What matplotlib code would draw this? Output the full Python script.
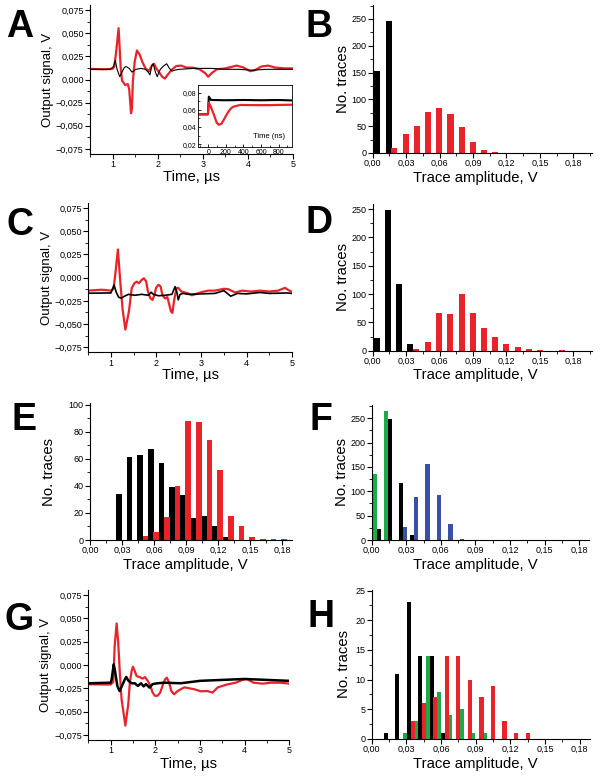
import matplotlib
matplotlib.use("Agg")
import matplotlib.pyplot as plt
from matplotlib.ticker import MultipleLocator, FuncFormatter

plt.rcParams['font.family'] = ['Liberation Sans', 'DejaVu Sans']

RED = '#E8242A'
GREEN = '#1DAA4B'
BLUE = '#3A50A8'
BLACK = '#000000'

# ---------------- data ----------------
# Panel A traces (time us, signal V)
a_red_t = [0.5, 0.8, 1.0, 1.04, 1.08, 1.134, 1.18, 1.21, 1.25, 1.28, 1.34, 1.37, 1.41, 1.43, 1.45, 1.49,
           1.54, 1.60, 1.66, 1.73, 1.81, 1.87, 1.92, 1.97, 2.03, 2.10, 2.16, 2.22, 2.30, 2.41, 2.52, 2.63,
           2.78, 2.93, 3.05, 3.12, 3.20, 3.31, 3.5, 3.75, 3.9, 4.05, 4.15, 4.3, 4.45, 4.6, 4.8, 5.0]
a_red_v = [0.0115, 0.011, 0.0115, 0.014, 0.030, 0.0554, 0.013, -0.001, -0.004, -0.006, -0.005, -0.011,
           -0.0365, -0.031, -0.002, 0.019, 0.0314, 0.027, 0.019, 0.012, 0.009, 0.015, 0.017, 0.012, 0.008,
           0.003, 0.001, 0.005, 0.010, 0.0145, 0.015, 0.013, 0.0128, 0.011, 0.007, 0.003, 0.007, 0.011,
           0.012, 0.015, 0.013, 0.009, 0.010, 0.014, 0.015, 0.013, 0.012, 0.012]
a_blk_t = [0.5, 0.95, 1.02, 1.06, 1.10, 1.16, 1.21, 1.26, 1.30, 1.37, 1.43, 1.52, 1.63, 1.73, 1.79, 1.83,
           1.87, 1.90, 1.95, 1.99, 2.03, 2.06, 2.14, 2.20, 2.26, 2.32, 2.37, 2.48, 2.8, 3.2, 3.5, 3.8,
           4.1, 4.4, 4.7, 5.0]
a_blk_v = [0.011, 0.011, 0.014, 0.0207, 0.011, 0.003, 0.008, 0.013, 0.014, 0.012, 0.008, 0.011, 0.012,
           0.011, 0.008, 0.005, 0.015, 0.017, 0.008, 0.003, 0.008, 0.011, 0.015, 0.017, 0.012, 0.009,
           0.010, 0.011, 0.012, 0.012, 0.011, 0.011, 0.010, 0.011, 0.011, 0.011]
# Panel A inset (time ns, signal V)
in_red_t = [-115, -5, 5, 30, 57, 95, 120, 150, 171, 200, 229, 260, 286, 362, 500, 700, 950]
in_red_v = [0.0548, 0.0548, 0.0684, 0.063, 0.056, 0.045, 0.0425, 0.044, 0.0475, 0.053, 0.058, 0.062,
            0.0637, 0.0657, 0.0655, 0.0655, 0.066]
in_blk_t = [-115, -5, 5, 30, 200, 400, 600, 800, 950]
in_blk_v = [0.0548, 0.0548, 0.0754, 0.0715, 0.0712, 0.0715, 0.0712, 0.0715, 0.071]

# Panel C traces
c_red_t = [0.5, 0.8, 1.0, 1.06, 1.10, 1.155, 1.21, 1.26, 1.32, 1.40, 1.46, 1.52, 1.57, 1.62, 1.68, 1.73,
           1.78, 1.82, 1.87, 1.92, 1.96, 2.00, 2.05, 2.10, 2.14, 2.20, 2.25, 2.28, 2.33, 2.36, 2.40, 2.45,
           2.49, 2.56, 2.64, 2.71, 2.79, 2.86, 3.0, 3.15, 3.3, 3.5, 3.6, 3.75, 3.9, 4.1, 4.3, 4.5, 4.7,
           4.85, 4.95, 5.0]
c_red_v = [-0.014, -0.013, -0.014, -0.012, 0.005, 0.0304, -0.006, -0.0347, -0.056, -0.036, -0.0115,
           -0.006, -0.0043, -0.006, -0.0025, -0.0007, -0.004, -0.015, -0.022, -0.024, -0.019, -0.011,
           -0.0077, -0.0095, -0.019, -0.0225, -0.021, -0.027, -0.0365, -0.038, -0.024, -0.0115, -0.011,
           -0.015, -0.016, -0.017, -0.019, -0.018, -0.0157, -0.014, -0.014, -0.012, -0.0125, -0.016,
           -0.014, -0.015, -0.014, -0.015, -0.014, -0.011, -0.014, -0.015]
c_blk_t = [0.5, 1.0, 1.07, 1.12, 1.17, 1.23, 1.30, 1.39, 1.53, 1.68, 1.83, 1.89, 1.94, 2.05, 2.2, 2.35,
           2.42, 2.46, 2.49, 2.53, 2.6, 2.71, 3.0, 3.3, 3.5, 3.65, 3.8, 4.0, 4.3, 4.5, 4.9, 5.0]
c_blk_v = [-0.0168, -0.0165, -0.008, -0.016, -0.021, -0.0222, -0.020, -0.018, -0.019, -0.018, -0.019,
           -0.0157, -0.018, -0.0195, -0.019, -0.018, -0.0097, -0.0157, -0.024, -0.018, -0.017, -0.018,
           -0.0175, -0.017, -0.014, -0.020, -0.017, -0.0175, -0.016, -0.017, -0.0165, -0.017]

# Panel G traces
g_red_t = [0.5, 1.0, 1.06, 1.09, 1.134, 1.17, 1.21, 1.245, 1.33, 1.395, 1.43, 1.47, 1.50, 1.54, 1.58,
           1.64, 1.72, 1.77, 1.83, 1.89, 1.94, 1.99, 2.05, 2.11, 2.16, 2.22, 2.26, 2.31, 2.36, 2.42, 2.5,
           2.57, 2.65, 2.76, 2.87, 3.02, 3.17, 3.28, 3.4, 3.6, 3.8, 3.95, 4.05, 4.2, 4.4, 4.6, 4.8, 5.0]
g_red_v = [-0.0207, -0.021, -0.018, 0.0203, 0.0446, 0.0239, -0.0118, -0.0367, -0.065, -0.042, -0.019,
           -0.0064, -0.0018, -0.0064, -0.0118, -0.0128, -0.0146, -0.013, -0.017, -0.0225, -0.0296,
           -0.033, -0.033, -0.0296, -0.0225, -0.0153, -0.0136, -0.019, -0.028, -0.0314, -0.028, -0.026,
           -0.024, -0.025, -0.026, -0.0282, -0.028, -0.0296, -0.024, -0.021, -0.019, -0.016, -0.015,
           -0.019, -0.020, -0.019, -0.019, -0.020]
g_blk_t = [0.5, 1.0, 1.02, 1.07, 1.10, 1.15, 1.20, 1.26, 1.32, 1.35, 1.40, 1.47, 1.54, 1.61, 1.68, 1.74,
           1.79, 1.87, 1.94, 2.05, 2.2, 2.57, 3.0, 3.5, 4.0, 4.5, 5.0]
g_blk_v = [-0.0196, -0.019, -0.016, 0.0007, -0.007, -0.0225, -0.028, -0.0217, -0.0153, -0.0128, -0.017,
           -0.0196, -0.0196, -0.0225, -0.0196, -0.023, -0.0205, -0.0243, -0.0205, -0.0196, -0.019,
           -0.0196, -0.017, -0.016, -0.015, -0.016, -0.017]

# Histograms (bin centre V, number of traces)
b_blk_x = [0.004, 0.0145]
b_blk_n = [153, 247]
b_red_x = [0.0195, 0.0295, 0.0398, 0.0498, 0.0598, 0.0698, 0.0800, 0.0900, 0.1000, 0.1100]
b_red_n = [10, 36, 51, 77, 84, 73, 49, 20, 6, 2]

d_blk_x = [0.0035, 0.0135, 0.0235, 0.0335]
d_blk_n = [23, 249, 117, 12]
d_red_x = [0.039, 0.0495, 0.0595, 0.0695, 0.0797, 0.090, 0.100, 0.110, 0.120, 0.130, 0.140, 0.150, 0.170]
d_red_n = [3, 16, 66, 64, 100, 67, 40, 24, 12, 6, 3, 1, 1]

e_blk_x = [0.027, 0.037, 0.047, 0.057, 0.067, 0.077, 0.087, 0.097, 0.107, 0.117, 0.127]
e_blk_n = [34, 61, 63, 67, 57, 39, 33, 16, 18, 10, 2]
e_red_x = [0.052, 0.062, 0.072, 0.082, 0.092, 0.102, 0.112, 0.122, 0.132, 0.142, 0.152, 0.162, 0.172, 0.182]
e_red_n = [3, 6, 17, 40, 88, 87, 74, 52, 18, 10, 2, 1, 1, 1]

f_grn_x = [0.003, 0.0127]
f_grn_n = [136, 265]
f_blk_x = [0.0063, 0.016, 0.0257, 0.0354]
f_blk_n = [22, 248, 117, 10]
f_blu_x = [0.029, 0.0387, 0.0484, 0.0585, 0.0683, 0.0783, 0.098]
f_blu_n = [27, 88, 155, 92, 33, 2, 1]

h_blk_x = [0.0124, 0.0222, 0.032, 0.0418, 0.052, 0.062]
h_blk_n = [1, 11, 23, 14, 14, 1]
h_grn_x = [0.0288, 0.0385, 0.0487, 0.0585, 0.068, 0.078, 0.088, 0.098]
h_grn_n = [1, 3, 14, 8, 4, 5, 1, 1]
h_red_x = [0.0354, 0.0452, 0.055, 0.065, 0.075, 0.085, 0.095, 0.105, 0.115, 0.125, 0.135]
h_red_n = [3, 6, 7, 14, 14, 10, 7, 9, 3, 1, 1]

trace_yticks = [-0.075, -0.05, -0.025, 0.0, 0.025, 0.05, 0.075]
amp_ticks = [0.0, 0.03, 0.06, 0.09, 0.12, 0.15, 0.18]

# ---------------- figure ----------------
W, H = 600, 778
fig = plt.figure(figsize=(W / 100, H / 100), dpi=100)

TICK_FS = 6.5


def add_ax(l, t, r, b):
    ax = fig.add_axes([l / W, 1 - b / H, (r - l) / W, (b - t) / H])
    ax.spines['top'].set_visible(False)
    ax.spines['right'].set_visible(False)
    for s in ('left', 'bottom'):
        ax.spines[s].set_linewidth(0.8)
    ax.tick_params(which='major', direction='out', length=3.5, width=0.8, labelsize=TICK_FS, pad=1)
    ax.tick_params(which='minor', direction='out', length=2, width=0.6)
    return ax


def labels(ax, rect, xlabel, xl_y, ylabel, yl_x, xl_x=None, yfs=10.7):
    l, t, r, b = rect
    ax.set_xlabel(xlabel, fontsize=10.7, va='center', ha='center')
    if xl_x is None:
        xl_x = (l + r) / 2
    ax.xaxis.set_label_coords((xl_x - l) / (r - l), (b - xl_y) / (b - t))
    ax.set_ylabel(ylabel, fontsize=yfs, va='center', ha='center')
    ax.yaxis.set_label_coords((yl_x - l) / (r - l), 0.5)


def comma_fmt(nd):
    def f(v, p):
        s = f"{abs(v):.{nd}f}".replace('.', ',')
        if v < -1e-12:
            s = '\u2212' + s
        return s
    return FuncFormatter(f)


def trace_axes(rect, red_t, red_v, blk_t, blk_v, blk_lw):
    ax = add_ax(*rect)
    ax.plot(red_t, red_v, color=RED, lw=1.6, solid_joinstyle='round')
    ax.plot(blk_t, blk_v, color=BLACK, lw=blk_lw, solid_joinstyle='round')
    ax.set_xlim(0.5, 5)
    ax.set_ylim(-0.0805, 0.0805)
    ax.set_yticks(trace_yticks)
    ax.yaxis.set_major_formatter(comma_fmt(3))
    ax.yaxis.set_minor_locator(MultipleLocator(0.0125))
    ax.set_xticks([1, 2, 3, 4, 5])
    ax.xaxis.set_minor_locator(MultipleLocator(0.5))
    return ax


def hist_axes(rect, series, width, ylim, ymaj, ymin, xmax):
    ax = add_ax(*rect)
    for xs, ns, col in series:
        ax.bar(xs, ns, width=width, color=col, edgecolor='none', linewidth=0)
    ax.set_xlim(0, xmax)
    ax.set_ylim(*ylim)
    ax.set_xticks(amp_ticks)
    ax.xaxis.set_major_formatter(comma_fmt(2))
    ax.xaxis.set_minor_locator(MultipleLocator(0.015))
    ax.yaxis.set_major_locator(MultipleLocator(ymaj))
    ax.yaxis.set_minor_locator(MultipleLocator(ymin))
    return ax


def letter(ch, x, y):
    fig.text(x / W, 1 - y / H, ch, fontsize=27, fontweight='bold', ha='left', va='baseline')


# Panel A
rA = (90, 5, 293, 154)
axA = trace_axes(rA, a_red_t, a_red_v, a_blk_t, a_blk_v, 0.8)
labels(axA, rA, 'Time, \u00b5s', 177, 'Output signal, V', 48, yfs=9.5)
# inset
rI = (198.3, 85, 291.7, 146.7)
axI = fig.add_axes([rI[0] / W, 1 - rI[3] / H, (rI[2] - rI[0]) / W, (rI[3] - rI[1]) / H])
axI.plot(in_blk_t, in_blk_v, color=BLACK, lw=1.5)
axI.plot(in_red_t, in_red_v, color=RED, lw=1.6)
axI.set_xlim(-115, 950)
axI.set_ylim(0.017, 0.089)
axI.set_xticks([0, 200, 400, 600, 800])
axI.set_yticks([0.02, 0.04, 0.06, 0.08])
axI.yaxis.set_major_formatter(comma_fmt(2))
axI.xaxis.set_minor_locator(MultipleLocator(100))
axI.yaxis.set_minor_locator(MultipleLocator(0.01))
axI.tick_params(which='major', direction='in', length=2.5, width=0.6, labelsize=5, pad=1.5)
axI.tick_params(which='minor', direction='in', length=1.5, width=0.5)
for s in axI.spines.values():
    s.set_linewidth(0.6)
axI.text(0.754, 0.16, 'Time (ns)', transform=axI.transAxes, fontsize=5.5, ha='center', va='center')

# Panel B
rB = (372.7, 5, 591.7, 153)
axB = hist_axes(rB, [(b_blk_x, b_blk_n, BLACK), (b_red_x, b_red_n, RED)], 0.0054, (0, 276), 50, 25, 0.1965)
labels(axB, rB, 'Trace amplitude, V', 178, 'No. traces', 343, xl_x=475)

# Panel C
rC = (88.3, 203, 291.7, 352.3)
axC = trace_axes(rC, c_red_t, c_red_v, c_blk_t, c_blk_v, 1.2)
labels(axC, rC, 'Time, \u00b5s', 375.5, 'Output signal, V', 47, yfs=9.5)

# Panel D
rD = (372.7, 204, 591.7, 350.7)
axD = hist_axes(rD, [(d_blk_x, d_blk_n, BLACK), (d_red_x, d_red_n, RED)], 0.0054, (0, 259), 50, 25, 0.1965)
labels(axD, rD, 'Trace amplitude, V', 375, 'No. traces', 343, xl_x=475)

# Panel E
rE = (90, 403.3, 291.7, 540)
axE = hist_axes(rE, [(e_blk_x, e_blk_n, BLACK), (e_red_x, e_red_n, RED)], 0.0053, (0, 101), 20, 10, 0.189)
labels(axE, rE, 'Trace amplitude, V', 565.5, 'No. traces', 49, xl_x=185)

# Panel F
rF = (371.7, 405, 589.3, 540)
axF = hist_axes(rF, [(f_grn_x, f_grn_n, GREEN), (f_blk_x, f_blk_n, BLACK), (f_blu_x, f_blu_n, BLUE)],
                0.0036, (0, 277), 50, 25, 0.1887)
labels(axF, rF, 'Trace amplitude, V', 565.5, 'No. traces', 342, xl_x=475)

# Panel G
rG = (88.3, 590, 289.3, 740)
axG = trace_axes(rG, g_red_t, g_red_v, g_blk_t, g_blk_v, 1.8)
labels(axG, rG, 'Time, \u00b5s', 764, 'Output signal, V', 46.5, yfs=9.5)

# Panel H
rH = (371.7, 590, 590, 739)
axH = hist_axes(rH, [(h_blk_x, h_blk_n, BLACK), (h_grn_x, h_grn_n, GREEN), (h_red_x, h_red_n, RED)],
                0.0036, (0, 25.1), 5, 2.5, 0.189)
labels(axH, rH, 'Trace amplitude, V', 764, 'No. traces', 344, xl_x=475)

# Panel letters
letter('A', 6, 37)
letter('B', 306, 37)
letter('C', 6, 235)
letter('D', 306, 233)
letter('E', 12, 430)
letter('F', 309, 430)
letter('G', 5, 630)
letter('H', 308, 627)

fig.savefig('out.png', dpi=100)
